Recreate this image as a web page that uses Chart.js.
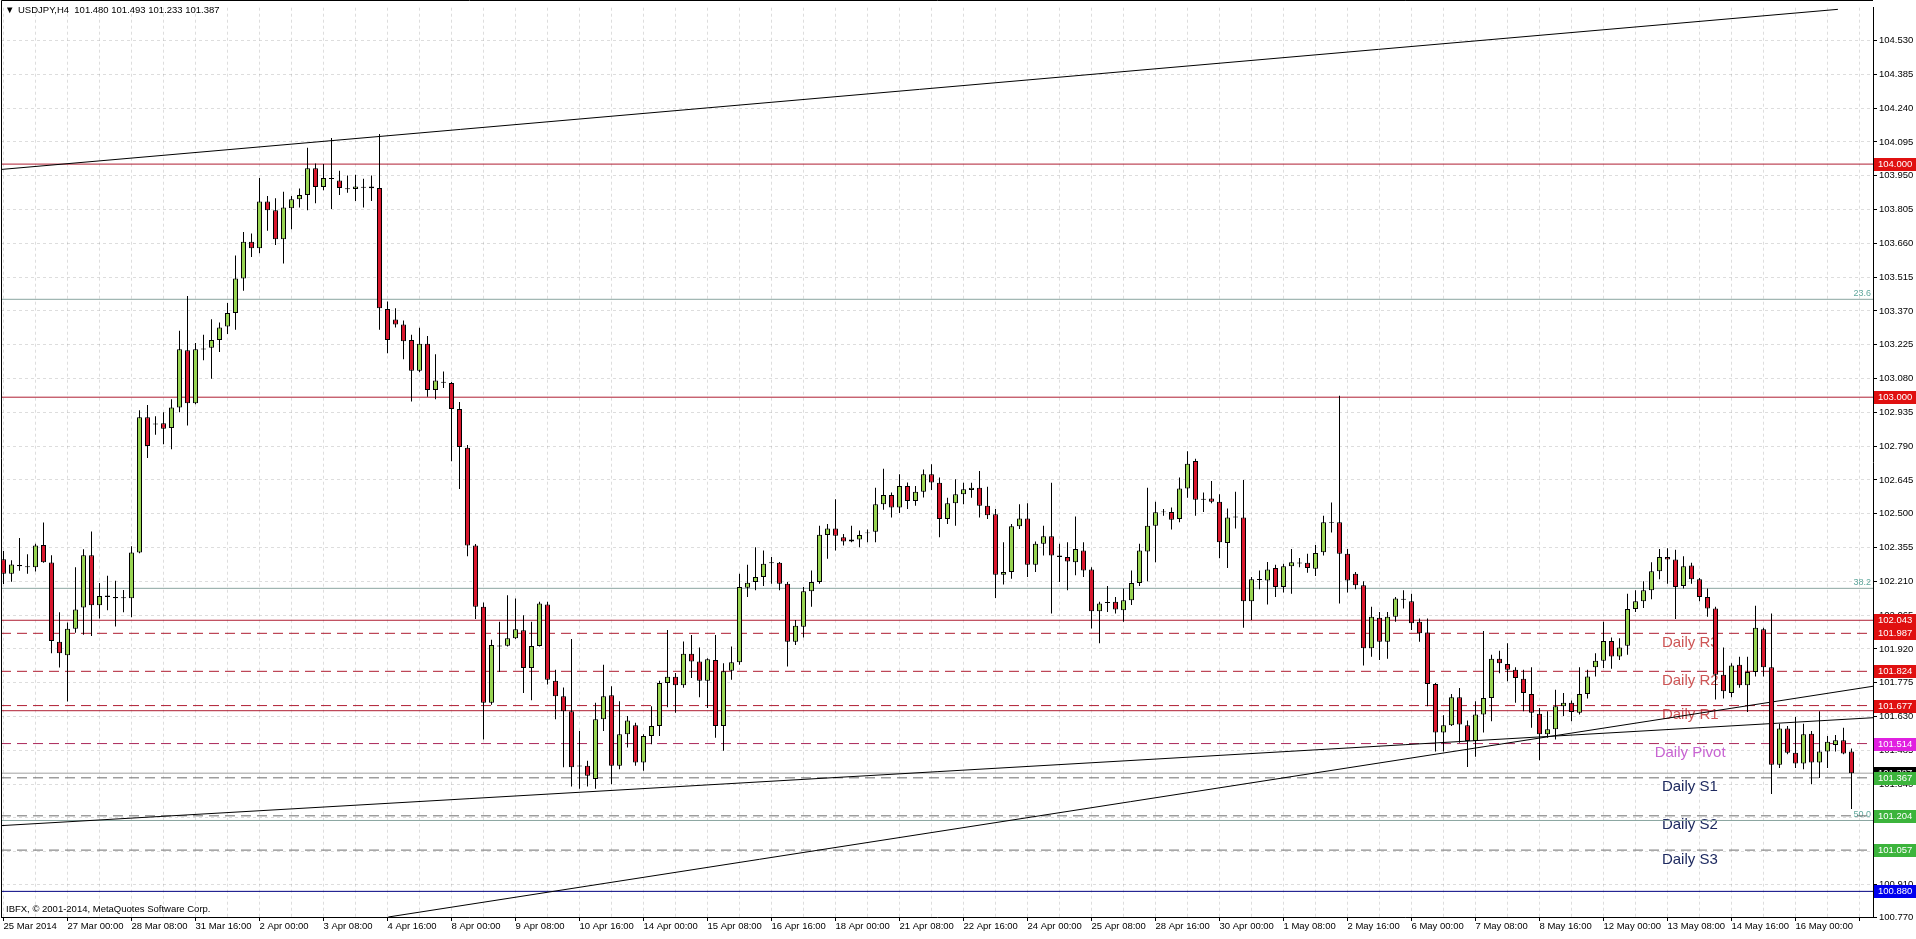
<!DOCTYPE html>
<html>
<head>
<meta charset="utf-8">
<script src="https://cdn.jsdelivr.net/npm/chart.js@4.4.1/dist/chart.umd.min.js"></script>
<style>
  html, body { margin: 0; padding: 0; background: #fff; }
  canvas { display: block; }
</style>
</head>
<body>
<canvas id="chart" width="1916" height="939"></canvas>
<script>
// USDJPY H4 candles (bar 0 = 25 Mar 2014)
const opens = [
  102.305,102.243,102.275,102.275,102.270,102.366,102.291,101.951,101.893,102.007,
  102.098,102.322,102.107,102.143,102.143,102.138,102.138,102.334,102.914,102.886,
  102.888,102.868,102.956,103.201,102.974,103.206,103.212,103.245,103.303,103.361,
  103.509,103.667,103.639,103.840,103.802,103.678,103.811,103.849,103.867,103.982,
  103.902,103.937,103.930,103.896,103.893,103.900,103.896,103.898,103.378,103.333,
  103.312,103.245,103.114,103.229,103.031,103.065,103.061,102.949,102.783,102.364,
  102.101,101.689,101.934,101.934,101.966,102.000,101.838,101.933,102.111,101.784,
  101.717,101.653,101.419,101.419,101.362,101.618,101.721,101.419,101.554,101.593,
  101.433,101.547,101.589,101.774,101.801,101.764,101.899,101.866,101.784,101.873,
  101.589,101.826,101.863,102.183,102.207,102.229,102.290,102.290,102.200,101.951,
  102.015,102.167,102.207,102.409,102.437,102.399,102.381,102.389,102.418,102.423,
  102.541,102.580,102.527,102.619,102.555,102.594,102.669,102.633,102.477,102.545,
  102.584,102.602,102.611,102.534,102.498,102.238,102.250,102.446,102.480,102.281,
  102.371,102.403,102.321,102.314,102.292,102.342,102.261,102.082,102.120,102.122,
  102.086,102.129,102.203,102.338,102.449,102.508,102.508,102.477,102.608,102.726,
  102.563,102.565,102.551,102.375,102.486,102.484,102.125,102.218,102.214,102.267,
  102.186,102.275,102.290,102.290,102.264,102.335,102.463,102.463,102.328,102.243,
  102.193,101.923,102.054,101.951,102.058,102.134,102.125,102.037,101.991,101.770,
  101.561,101.593,101.713,101.593,101.525,101.639,101.710,101.878,101.855,101.831,
  101.792,101.727,101.642,101.554,101.575,101.674,101.689,101.646,101.727,101.841,
  101.869,101.954,101.888,101.934,102.091,102.125,102.172,102.253,102.314,102.304,
  102.190,102.278,102.219,102.143,102.094,101.809,101.731,101.852,101.764,101.821,
  102.005,101.841,101.423,101.579,101.475,101.429,101.556,101.433,101.480,101.508,
  101.528,101.480
];
const highs = [
  102.340,102.301,102.396,102.326,102.371,102.462,102.322,102.077,102.033,102.270,
  102.348,102.424,102.203,102.234,102.213,102.173,102.361,102.944,102.967,102.918,
  102.935,102.991,103.285,103.434,103.233,103.268,103.334,103.320,103.404,103.608,
  103.709,103.702,103.940,103.863,103.853,103.881,103.863,103.895,104.070,104.003,
  104.000,104.112,103.972,103.951,103.954,103.937,103.951,104.129,103.411,103.382,
  103.329,103.268,103.298,103.263,103.184,103.110,103.065,102.979,102.795,102.370,
  102.119,101.959,102.037,102.150,102.136,102.065,102.037,102.122,102.122,101.831,
  101.755,101.963,101.568,101.440,101.689,101.852,101.760,101.696,101.632,101.603,
  101.554,101.674,101.784,102.001,101.817,101.952,101.980,101.926,101.880,101.980,
  101.859,101.930,102.243,102.281,102.356,102.342,102.314,102.293,102.207,102.044,
  102.186,102.257,102.449,102.456,102.562,102.413,102.449,102.428,102.432,102.612,
  102.693,102.591,102.669,102.634,102.619,102.690,102.712,102.655,102.569,102.648,
  102.633,102.633,102.683,102.616,102.520,102.378,102.456,102.541,102.545,102.381,
  102.449,102.633,102.371,102.378,102.488,102.378,102.271,102.122,102.190,102.143,
  102.179,102.257,102.371,102.612,102.551,102.520,102.527,102.655,102.768,102.736,
  102.591,102.641,102.584,102.523,102.594,102.645,102.229,102.257,102.293,102.281,
  102.285,102.349,102.310,102.328,102.366,102.491,102.548,103.006,102.349,102.250,
  102.210,102.101,102.079,102.079,102.143,102.172,102.157,102.051,102.051,101.774,
  101.636,101.727,101.752,101.613,101.696,101.997,101.895,101.912,101.944,101.841,
  101.831,101.841,101.667,101.653,101.745,101.731,101.699,101.841,101.831,101.902,
  102.037,101.969,101.966,102.157,102.172,102.210,102.292,102.349,102.352,102.346,
  102.318,102.290,102.224,102.179,102.101,101.926,101.859,101.887,101.887,102.105,
  102.011,102.072,101.599,101.589,101.628,101.599,101.568,101.653,101.546,101.551,
  101.582,101.493
];
const lows = [
  102.199,102.208,102.255,102.243,102.252,102.290,101.902,101.840,101.695,101.989,
  101.981,101.975,102.051,102.086,102.016,102.077,102.056,102.330,102.739,102.839,
  102.798,102.777,102.935,102.879,102.970,103.159,103.079,103.194,103.271,103.289,
  103.457,103.601,103.618,103.714,103.653,103.574,103.720,103.814,103.802,103.832,
  103.888,103.807,103.867,103.877,103.842,103.814,103.842,103.289,103.189,103.299,
  103.163,102.982,103.107,103.002,102.991,103.040,102.725,102.606,102.318,102.048,
  101.532,101.681,101.821,101.930,101.963,101.731,101.700,101.930,101.767,101.618,
  101.412,101.330,101.320,101.330,101.320,101.568,101.340,101.404,101.497,101.419,
  101.397,101.511,101.547,101.670,101.646,101.753,101.795,101.713,101.667,101.539,
  101.483,101.788,101.852,102.143,102.172,102.190,102.200,102.172,101.845,101.937,
  101.969,102.101,102.200,102.307,102.342,102.364,102.378,102.356,102.378,102.378,
  102.517,102.484,102.503,102.520,102.534,102.570,102.602,102.399,102.456,102.449,
  102.541,102.569,102.484,102.477,102.139,102.196,102.221,102.435,102.229,102.250,
  102.321,102.072,102.207,102.172,102.236,102.229,102.008,101.944,102.079,102.072,
  102.037,102.108,102.190,102.210,102.292,102.491,102.432,102.463,102.569,102.491,
  102.508,102.545,102.309,102.267,102.437,102.011,102.044,102.176,102.111,102.143,
  102.162,102.157,102.270,102.247,102.233,102.321,102.420,102.115,102.162,102.176,
  101.849,101.887,101.873,101.878,102.037,102.093,102.001,101.951,101.674,101.480,
  101.480,101.589,101.518,101.414,101.457,101.561,101.610,101.816,101.781,101.689,
  101.653,101.582,101.443,101.539,101.532,101.632,101.610,101.639,101.707,101.802,
  101.838,101.835,101.873,101.895,102.079,102.096,102.133,102.219,102.200,102.048,
  102.179,102.200,102.125,102.058,101.703,101.707,101.713,101.753,101.650,101.802,
  101.802,101.298,101.409,101.468,101.409,101.404,101.340,101.366,101.409,101.480,
  101.468,101.233
];
const closes = [
  102.243,102.282,102.280,102.270,102.364,102.292,101.954,101.902,102.007,102.089,
  102.322,102.107,102.147,102.149,102.138,102.142,102.334,102.914,102.791,102.884,
  102.865,102.956,103.206,102.974,103.206,103.208,103.245,103.299,103.361,103.509,
  103.667,103.639,103.840,103.802,103.678,103.814,103.849,103.867,103.982,103.902,
  103.940,103.940,103.898,103.893,103.904,103.902,103.904,103.382,103.245,103.312,
  103.240,103.114,103.229,103.031,103.072,103.063,102.949,102.786,102.364,102.101,
  101.689,101.937,101.932,101.966,102.004,101.838,101.933,102.115,101.788,101.717,
  101.653,101.412,101.416,101.376,101.618,101.717,101.419,101.554,101.613,101.433,
  101.547,101.589,101.774,101.801,101.764,101.899,101.866,101.784,101.876,101.589,
  101.824,101.863,102.186,102.204,102.229,102.285,102.289,102.200,101.951,102.020,
  102.167,102.207,102.410,102.437,102.406,102.381,102.389,102.409,102.418,102.541,
  102.580,102.527,102.619,102.555,102.594,102.669,102.634,102.477,102.545,102.584,
  102.605,102.611,102.534,102.494,102.238,102.250,102.446,102.480,102.281,102.371,
  102.403,102.321,102.314,102.295,102.349,102.257,102.082,102.115,102.119,102.089,
  102.129,102.203,102.342,102.449,102.506,102.508,102.474,102.608,102.715,102.560,
  102.562,102.551,102.378,102.484,102.486,102.125,102.219,102.218,102.261,102.186,
  102.275,102.292,102.288,102.267,102.332,102.463,102.461,102.328,102.214,102.193,
  101.923,102.058,101.951,102.058,102.136,102.132,102.030,101.987,101.770,101.561,
  101.593,101.713,101.596,101.525,101.639,101.710,101.878,101.859,101.831,101.795,
  101.731,101.646,101.554,101.575,101.674,101.689,101.650,101.727,101.802,101.869,
  101.954,101.888,101.926,102.091,102.125,102.172,102.253,102.314,102.304,102.186,
  102.275,102.219,102.143,102.094,101.809,101.738,101.849,101.764,101.821,102.011,
  101.841,101.423,101.579,101.475,101.429,101.554,101.433,101.480,101.522,101.528,
  101.471,101.387
];

// time axis labels, one every 8 bars
const dateLabels = [
  '25 Mar 2014','27 Mar 00:00','28 Mar 08:00','31 Mar 16:00','2 Apr 00:00','3 Apr 08:00',
  '4 Apr 16:00','8 Apr 00:00','9 Apr 08:00','10 Apr 16:00','14 Apr 00:00','15 Apr 08:00',
  '16 Apr 16:00','18 Apr 00:00','21 Apr 08:00','22 Apr 16:00','24 Apr 00:00','25 Apr 08:00',
  '28 Apr 16:00','30 Apr 00:00','1 May 08:00','2 May 16:00','6 May 00:00','7 May 08:00',
  '8 May 16:00','12 May 00:00','13 May 08:00','14 May 16:00','16 May 00:00'
];
const priceTicks = [
  104.530,104.385,104.240,104.095,103.950,103.805,103.660,103.515,103.370,103.225,
  103.080,102.935,102.790,102.645,102.500,102.355,102.210,102.065,101.920,101.775,
  101.630,101.485,101.340,101.195,101.050,100.910,100.770
];

// horizontal levels
const resistLevels = [104.000, 103.000, 102.043, 101.655];
const pivotNames = ['Daily R3','Daily R2','Daily R1','Daily Pivot','Daily S1','Daily S2','Daily S3'];
const pivotLevels = [101.987, 101.824, 101.677, 101.514, 101.367, 101.204, 101.057];
const fibNames = ['23.6','38.2','50.0'];
const fibLevels = [103.420, 102.180, 101.184];
const bidPrice = 101.387;
const supportLevel = 100.880;

// trend lines as [bar, price] end points
const upperTrend = [[-0.3, 103.977], [229.3, 104.664]];
const lowerTrend = [[-0.3, 101.162], [233.7, 101.625]];
const steepTrend = [[48.1, 100.770], [233.7, 101.760]];

const X_MIN = -0.3125, X_MAX = 233.6875;
const Y_MIN = 100.770, Y_MAX = 104.671;
const FONT = '"Liberation Sans", Arial, sans-serif';

Chart.defaults.font.family = FONT;

const bullColor = '#98d452';
const bearColor = '#d8162c';
const gridColor = 'rgba(150,150,150,0.32)';

const wickData = highs.map((h, i) => ({ x: i, y: [lows[i], h] }));
const bodyData = opens.map((o, i) => {
  const c = closes[i];
  if (Math.abs(c - o) < 0.004) {
    const m = (o + c) / 2;
    return { x: i, y: [m - 0.002, m + 0.002] };
  }
  return { x: i, y: [o, c] };
});
const bodyColors = opens.map((o, i) => closes[i] > o ? bullColor : bearColor);

function hLine(v, color, dash, order) {
  return {
    type: 'line',
    data: [{ x: X_MIN, y: v }, { x: X_MAX, y: v }],
    borderColor: color,
    borderWidth: 1,
    borderDash: dash || [],
    pointRadius: 0,
    fill: false,
    order: order || 20
  };
}
function seg(pts, color) {
  return {
    type: 'line',
    data: pts.map(p => ({ x: p[0], y: p[1] })),
    borderColor: color,
    borderWidth: 1,
    pointRadius: 0,
    fill: false,
    order: 5
  };
}

const datasets = [];
resistLevels.forEach(v => datasets.push(hLine(v, 'rgb(175,30,50)')));
fibLevels.forEach(v => datasets.push(hLine(v, '#8aa5a0')));
pivotLevels.forEach((v, k) => {
  const col = k < 3 ? 'rgb(175,30,50)' : (k === 3 ? 'rgb(170,40,90)' : '#6e6e6e');
  datasets.push(hLine(v, col, [10, 6]));
});
datasets.push(hLine(bidPrice, '#a0a0a0'));
datasets.push(hLine(supportLevel, '#000080'));
datasets.push(seg(upperTrend, '#000'));
datasets.push(seg(lowerTrend, '#000'));
datasets.push(seg(steepTrend, '#000'));
datasets.push({
  type: 'bar',
  data: wickData,
  backgroundColor: '#000',
  borderWidth: 0,
  barThickness: 1,
  grouped: false,
  inflateAmount: 0,
  order: 2
});
datasets.push({
  type: 'bar',
  data: bodyData,
  backgroundColor: bodyColors,
  borderColor: '#000',
  borderWidth: 1,
  borderSkipped: false,
  barThickness: 5,
  grouped: false,
  inflateAmount: 0,
  order: 1
});

const overlay = {
  id: 'overlay',
  beforeDatasetsDraw(chart) {
    const { ctx, scales: { x, y }, chartArea } = chart;
    ctx.save();
    ctx.font = '15px ' + FONT;
    ctx.textBaseline = 'top';
    ctx.textAlign = 'left';
    pivotNames.forEach((name, k) => {
      ctx.fillStyle = k < 3 ? 'rgb(205,85,85)' : (k === 3 ? 'rgb(200,100,210)' : '#1e2a60');
      const bar = k === 3 ? 206.4 : 207.3;
      ctx.fillText(name, x.getPixelForValue(bar), y.getPixelForValue(pivotLevels[k]) + 2);
    });
    ctx.font = '9px ' + FONT;
    ctx.fillStyle = '#5fa79c';
    ctx.textAlign = 'right';
    ctx.textBaseline = 'bottom';
    fibNames.forEach((n, k) => {
      ctx.fillText(n, chartArea.right - 2, y.getPixelForValue(fibLevels[k]) - 1);
    });
    ctx.restore();
  },
  afterDraw(chart) {
    const { ctx, scales: { y }, chartArea } = chart;
    ctx.save();
    // frame
    ctx.strokeStyle = '#000';
    ctx.lineWidth = 1;
    ctx.beginPath();
    ctx.moveTo(1.5, chartArea.bottom);
    ctx.lineTo(1.5, 0.5);
    ctx.lineTo(chartArea.right, 0.5);
    ctx.stroke();

    // header and copyright
    ctx.fillStyle = '#000';
    ctx.font = '9.5px ' + FONT;
    ctx.textAlign = 'left';
    ctx.textBaseline = 'middle';
    ctx.fillText('\u25BC', 5, 10);
    ctx.fillText('USDJPY,H4  ' + [opens, highs, lows, closes].map(a => a[a.length - 1].toFixed(3)).join(' '), 18, 10);
    ctx.fillText('IBFX, \u00A9 2001-2014, MetaQuotes Software Corp.', 6, 909);

    // price markers on the right axis
    const marks = [];
    [resistLevels[0], resistLevels[1], resistLevels[2], pivotLevels[0], pivotLevels[1], pivotLevels[2]]
      .forEach(v => marks.push([v, '#e01010']));
    marks.push([pivotLevels[3], '#e020e0']);
    marks.push([bidPrice, '#000000']);
    pivotLevels.slice(4).forEach(v => marks.push([v, '#3cb43c']));
    marks.push([supportLevel, '#0000ee']);
    marks.forEach(([v, col]) => {
      const py = Math.round(y.getPixelForValue(v));
      ctx.fillStyle = col;
      ctx.fillRect(chartArea.right + 1, py - 6, 1916 - chartArea.right - 1, 13);
      ctx.fillStyle = '#fff';
      ctx.fillText(v.toFixed(3), chartArea.right + 5, py + 0.5);
    });
    ctx.restore();
  }
};

new Chart(document.getElementById('chart'), {
  type: 'bar',
  data: { datasets: datasets },
  options: {
    responsive: false,
    animation: false,
    devicePixelRatio: 1,
    layout: { padding: { left: 1, top: 2, right: 0, bottom: 0 } },
    plugins: { legend: { display: false }, tooltip: { enabled: false } },
    scales: {
      x: {
        type: 'linear',
        min: X_MIN,
        max: X_MAX,
        offset: false,
        afterBuildTicks: scale => {
          const t = [];
          for (let i = 0; i <= 232; i += 4) t.push({ value: i });
          scale.ticks = t;
        },
        afterFit: scale => { scale.height = 22; },
        grid: {
          offset: false,
          color: gridColor,
          tickColor: ctx => (ctx.tick && ctx.tick.value % 8 === 0 ? '#000' : 'rgba(0,0,0,0)'),
          tickLength: 4
        },
        border: { display: true, color: '#000', dash: [3, 3] },
        ticks: {
          autoSkip: false,
          maxRotation: 0,
          align: 'start',
          padding: 0,
          color: '#000',
          font: { size: 9.5 },
          callback: v => (v % 8 === 0 ? (dateLabels[v / 8] || '') : '')
        }
      },
      y: {
        position: 'right',
        min: Y_MIN,
        max: Y_MAX,
        beginAtZero: false,
        afterBuildTicks: scale => { scale.ticks = priceTicks.map(v => ({ value: v })); },
        afterFit: scale => { scale.width = 43; },
        grid: {
          color: gridColor,
          tickColor: '#000',
          tickLength: 4
        },
        border: { display: true, color: '#000', dash: [3, 3] },
        ticks: {
          autoSkip: false,
          padding: 2,
          color: '#000',
          font: { size: 9.5 },
          callback: v => v.toFixed(3)
        }
      }
    }
  },
  plugins: [overlay]
});
</script>
</body>
</html>
